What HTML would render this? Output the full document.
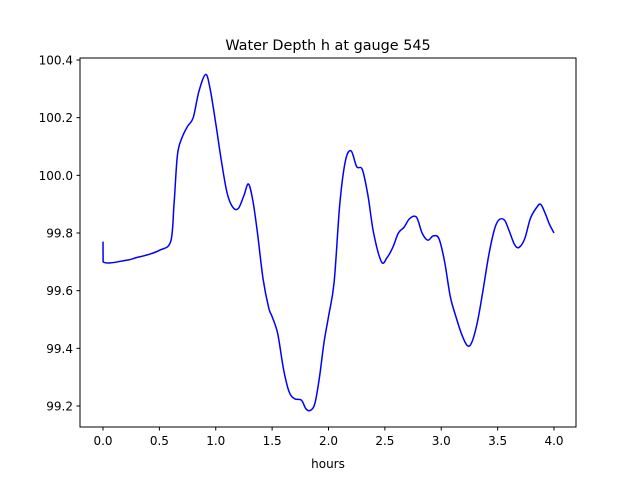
<!DOCTYPE html>
<html><head><meta charset="utf-8"><style>body{margin:0;background:#fff}svg{display:block;font-family:"DejaVu Sans","Liberation Sans",sans-serif}</style></head>
<body>
<svg width="640" height="480">
<rect width="640" height="480" fill="#fff"/>
<text x="328" y="50" text-anchor="middle" font-size="14.4">Water Depth h at gauge 545</text>
<g id="plot"></g>
<rect x="80" y="58" width="496" height="369" fill="none" stroke="#000" stroke-width="1"/>
<text x="328" y="468" text-anchor="middle" font-size="12">hours</text>
</svg>
<script>
const times=[0,0.001,0.2,0.3,0.4,0.5,0.6,0.63,0.66,0.7,0.75,0.8,0.85,0.91,0.95,1.0,1.05,1.1,1.15,1.2,1.25,1.29,1.33,1.37,1.42,1.47,1.5,1.55,1.6,1.65,1.7,1.76,1.8,1.84,1.88,1.92,1.96,2.0,2.05,2.1,2.15,2.2,2.25,2.3,2.35,2.4,2.47,2.52,2.57,2.62,2.67,2.72,2.78,2.83,2.88,2.93,2.98,3.03,3.08,3.13,3.18,3.23,3.27,3.32,3.37,3.42,3.47,3.51,3.56,3.6,3.65,3.69,3.74,3.79,3.84,3.88,3.92,3.96,4.0];
const depths=[99.77,99.70,99.705,99.715,99.725,99.74,99.77,99.9,100.07,100.13,100.17,100.2,100.29,100.35,100.30,100.18,100.05,99.94,99.89,99.885,99.93,99.97,99.91,99.80,99.64,99.54,99.51,99.45,99.33,99.25,99.225,99.22,99.19,99.185,99.21,99.30,99.42,99.51,99.63,99.90,100.05,100.085,100.03,100.02,99.93,99.80,99.70,99.715,99.75,99.80,99.82,99.85,99.855,99.80,99.775,99.79,99.78,99.70,99.58,99.51,99.45,99.41,99.42,99.49,99.60,99.72,99.81,99.845,99.845,99.81,99.76,99.75,99.78,99.85,99.885,99.9,99.87,99.83,99.80];
const xTicks=[0,0.5,1,1.5,2,2.5,3,3.5,4];
const xTickLabels=["0.0","0.5","1.0","1.5","2.0","2.5","3.0","3.5","4.0"];
const yTicks=[99.2,99.4,99.6,99.8,100.0,100.2,100.4];
const yTickLabels=["99.2","99.4","99.6","99.8","100.0","100.2","100.4"];
const X=t=>103+t*112.75, Y=v=>406-(v-99.2)*288.33;
const ns="http://www.w3.org/2000/svg", g=document.getElementById('plot');
function mk(tag,attrs){const e=document.createElementNS(ns,tag);for(const k in attrs)e.setAttribute(k,attrs[k]);g.appendChild(e);return e;}
xTicks.forEach((t,i)=>{
 const l=mk('line',{x1:X(t),x2:X(t),y1:427,y2:430.5,stroke:'#000'});
 
 
 const tx=mk('text',{x:X(t),y:445,'text-anchor':'middle','font-size':12});tx.textContent=xTickLabels[i];
 
 
});
yTicks.forEach((v,i)=>{
 const l=mk('line',{x1:76.5,x2:80,y1:Y(v),y2:Y(v),stroke:'#000'});
 
 
 const tx=mk('text',{x:73,y:Y(v)+4.5,'text-anchor':'end','font-size':12});tx.textContent=yTickLabels[i];
 
 
});
const pts=times.map((t,i)=>[X(t),Y(depths[i])]);
let d='M'+pts[0][0]+','+pts[0][1];
for(let i=0;i<pts.length-1;i++){
 const p0=pts[Math.max(0,i-1)],p1=pts[i],p2=pts[i+1],p3=pts[Math.min(pts.length-1,i+2)];
 if(i===0){d+=' L'+p2[0]+','+p2[1];continue;}
 const c1=[p1[0]+(p2[0]-p0[0])/6,p1[1]+(p2[1]-p0[1])/6],c2=[p2[0]-(p3[0]-p1[0])/6,p2[1]-(p3[1]-p1[1])/6];
 d+=' C'+c1+' '+c2+' '+p2;
}
const line=mk('path',{d:d,fill:'none',stroke:'#0000ff','stroke-width':1.5});


</script>
</body></html>
